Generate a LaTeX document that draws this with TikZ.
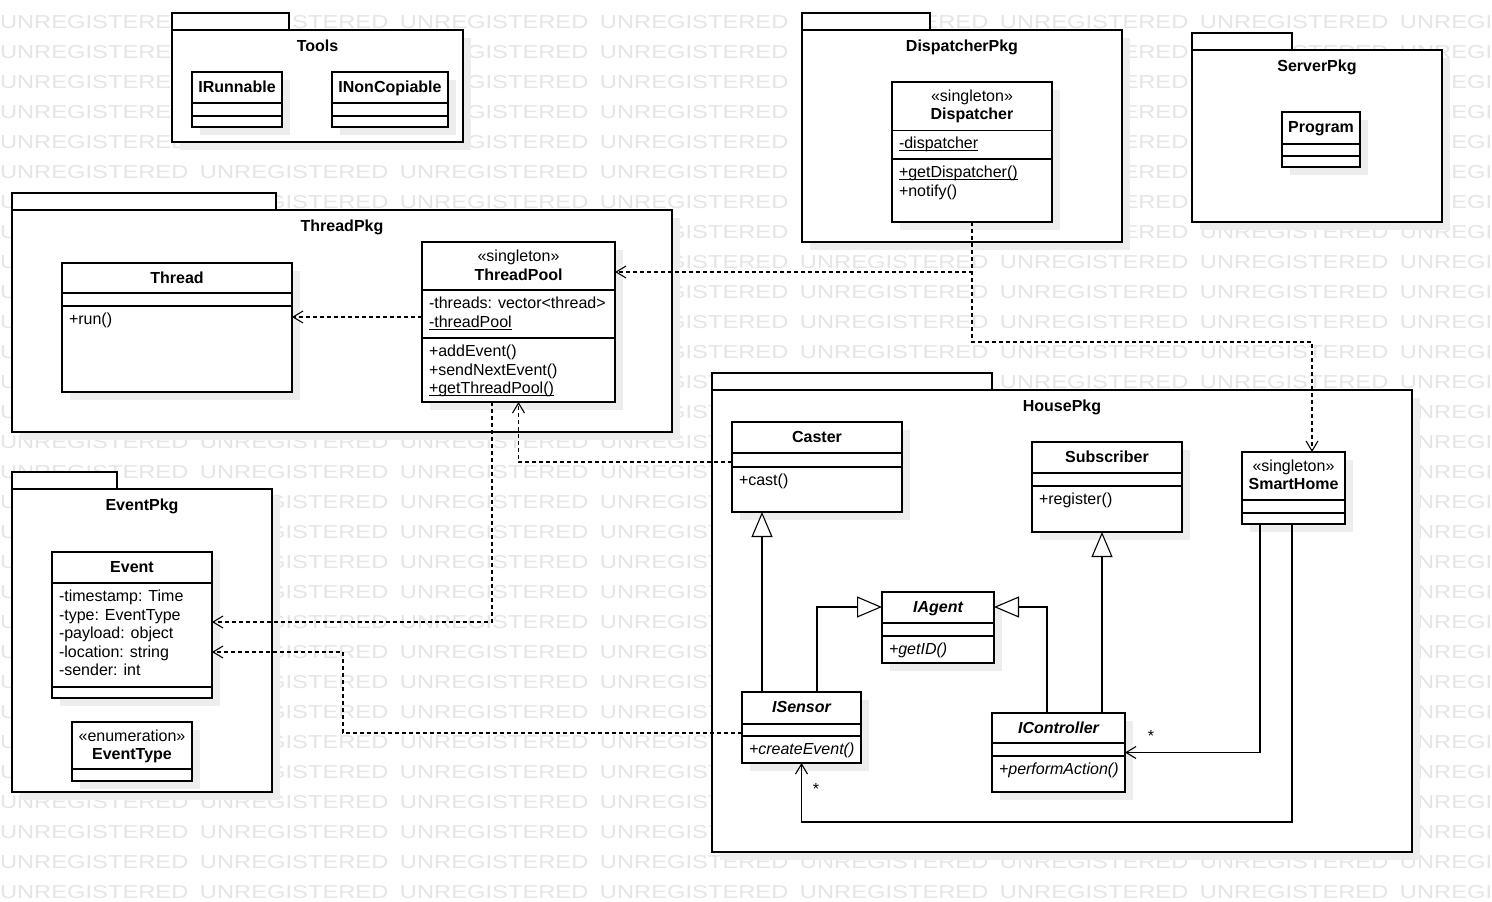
\documentclass[tikz,border=0pt]{standalone}
\usepackage{fontspec}
\usepackage{graphicx}
\setmainfont{Liberation Sans}
\usetikzlibrary{arrows.meta}

% text sizes
\newcommand\cfont{\fontsize{16}{19}\selectfont}
\newcommand\wmfont{\fontsize{18.67}{20}\selectfont}

% underline that sits just under the baseline (static members)
\newsavebox\ulbox
\newcommand\ulined[1]{\sbox\ulbox{#1}\rlap{\rule[-2.6pt]{\wd\ulbox}{0.9pt}}\usebox\ulbox}

% background watermark
\newcommand\wmword{\makebox[200pt][l]{\scalebox{1.27}[1]{UNREGISTERED}}}
\newcommand\wmrow{\wmword\wmword\wmword\wmword\wmword\wmword\wmword\wmword}

\tikzset{
  boxline/.style={line width=1.1pt},
  classbox/.style={draw, line width=1.1pt, fill=white, inner sep=0pt, outer sep=0pt, anchor=north west},
  shade/.style={fill=black!7},
  ctxt/.style={inner sep=0pt, outer sep=0pt, font=\cfont},
  bname/.style={ctxt, font=\cfont\bfseries},
  biname/.style={ctxt, font=\cfont\bfseries\itshape},
  iop/.style={ctxt, font=\cfont\itshape},
  wm/.style={inner sep=0pt, outer sep=0pt, anchor=base west, text=black!10, font=\wmfont},
  dep/.style={line width=1.1pt, dash pattern=on 4pt off 3pt, -{Straight Barb[length=10pt,width=12pt]}},
  assoc/.style={line width=1.1pt, -{Straight Barb[length=10pt,width=12pt]}},
  gen/.style={line width=1.1pt, -{Triangle[length=25pt,width=21pt,fill=white]}},
}

% class box: name, x, y, width, height, compartment line ys
\newcommand\umlclass[6]{%
  \fill[shade] (#2+8,#3+8) rectangle ++(#4,#5);
  \node[classbox, minimum width=#4pt, minimum height=#5pt] (#1) at (#2,#3) {};
  \foreach \ly in {#6} {\draw[boxline] (#2,\ly) -- ++(#4,0);}
}
% package: name, x, body top, width, height, tab width, title
\newcommand\umlpackage[7]{%
  \fill[shade] (#2+8,#3+8) rectangle ++(#4,#5);
  \draw[boxline, fill=white] (#2,#3-17) rectangle ++(#6,17);
  \node[classbox, minimum width=#4pt, minimum height=#5pt] (#1) at (#2,#3) {};
  \node[bname, anchor=base] (#1-title) at (#2+#4/2,#3+21.7) {#7};
}
\newcommand\ctext[5][ctxt]{\node[#1, anchor=base] (#2) at (#3,#4) {#5};}
\newcommand\ltext[5][ctxt]{\node[#1, anchor=base west] (#2) at (#3,#4) {#5};}

\begin{document}
\begin{tikzpicture}[x=1pt,y=-1pt]
\useasboundingbox (0,0) rectangle (1492,902);
\fill[white] (0,0) rectangle (1492,902);

% watermark rows
\foreach \r in {0,...,29}
  \node[wm] (wm\r) at (0,{28+30*\r}) {\wmrow};

% packages
\umlpackage{tools}{172}{30}{291}{112}{117}{Tools}
\umlpackage{dispatcherpkg}{802}{30}{320}{212}{128}{DispatcherPkg}
\umlpackage{serverpkg}{1192}{50}{250}{172}{100}{ServerPkg}
\umlpackage{threadpkg}{12}{210}{660}{222}{264}{ThreadPkg}
\umlpackage{eventpkg}{12}{489}{260}{303}{105}{EventPkg}
\umlpackage{housepkg}{712}{390}{700}{462}{280}{HousePkg}

% Tools
\umlclass{irunnable}{192}{72}{90}{55}{103,116}
\ctext[bname]{irunnable-n}{237}{92.5}{IRunnable}
\umlclass{inoncopiable}{332}{72}{116}{55}{103,116}
\ctext[bname]{inoncopiable-n}{390}{92.5}{INonCopiable}

% DispatcherPkg
\umlclass{dispatcher}{892}{82}{160}{140}{130.5,159}
\ctext{dispatcher-s}{972}{101}{«singleton»}
\ctext[bname]{dispatcher-n}{972}{119.5}{Dispatcher}
\ltext{dispatcher-a1}{899}{148.5}{\ulined{-dispatcher}}
\ltext{dispatcher-o1}{899}{177.5}{\ulined{+getDispatcher()}}
\ltext{dispatcher-o2}{899}{196}{+notify()}

% ServerPkg
\umlclass{program}{1282}{112}{78}{55}{144,156}
\ctext[bname]{program-n}{1321}{132.5}{Program}

% ThreadPkg
\umlclass{thread}{62}{263}{230}{129}{293,306}
\ctext[bname]{thread-n}{177}{283.5}{Thread}
\ltext{thread-o1}{69}{324.5}{+run()}
\umlclass{threadpool}{422}{242}{193}{160}{290,338}
\ctext{threadpool-s}{518.5}{261.5}{«singleton»}
\ctext[bname]{threadpool-n}{518.5}{280}{ThreadPool}
\ltext{threadpool-a1}{429}{308.5}{-threads: vector<thread>}
\ltext{threadpool-a2}{429}{327}{\ulined{-threadPool}}
\ltext{threadpool-o1}{429}{356.5}{+addEvent()}
\ltext{threadpool-o2}{429}{375}{+sendNextEvent()}
\ltext{threadpool-o3}{429}{393.5}{\ulined{+getThreadPool()}}

% EventPkg
\umlclass{event}{52}{552}{160}{146}{583,687}
\ctext[bname]{event-n}{132}{572.5}{Event}
\ltext{event-a1}{59}{601.5}{-timestamp: Time}
\ltext{event-a2}{59}{620}{-type: EventType}
\ltext{event-a3}{59}{638.5}{-payload: object}
\ltext{event-a4}{59}{657}{-location: string}
\ltext{event-a5}{59}{675.5}{-sender: int}
\umlclass{eventtype}{72}{722}{120}{59}{769}
\ctext{eventtype-s}{132}{741}{«enumeration»}
\ctext[bname]{eventtype-n}{132}{759}{EventType}

% HousePkg
\umlclass{caster}{732}{422}{170}{90}{453,467}
\ctext[bname]{caster-n}{817}{442.5}{Caster}
\ltext{caster-o1}{739}{485.5}{+cast()}
\umlclass{subscriber}{1032}{442}{150}{90}{473,486}
\ctext[bname]{subscriber-n}{1107}{462.5}{Subscriber}
\ltext{subscriber-o1}{1039}{504.5}{+register()}
\umlclass{smarthome}{1242}{452}{103}{72}{500,513}
\ctext{smarthome-s}{1293.5}{471.5}{«singleton»}
\ctext[bname]{smarthome-n}{1293.5}{489.5}{SmartHome}
\umlclass{iagent}{882}{592}{112}{71}{623,636}
\ctext[biname]{iagent-n}{938}{612.5}{IAgent}
\ltext[iop]{iagent-o1}{889}{654.5}{+getID()}
\umlclass{isensor}{742}{692}{119}{71}{724,736}
\ctext[biname]{isensor-n}{801.5}{712.5}{ISensor}
\ltext[iop]{isensor-o1}{749}{754.5}{+createEvent()}
\umlclass{icontroller}{992}{713}{133}{79}{743,756}
\ctext[biname]{icontroller-n}{1058.5}{733.5}{IController}
\ltext[iop]{icontroller-o1}{999}{774.5}{+performAction()}

% dependencies
\draw[dep] ([yshift=5pt]threadpool.west) -- ([yshift=5pt]threadpool.west -| thread.east);
\draw[dep] (dispatcher.south) |- ([yshift=50pt]threadpool.east);
\draw[dep] (dispatcher.south) -- ++(0,120) -| ([xshift=18.5pt]smarthome.north);
\draw[dep] ([xshift=-26.5pt]threadpool.south) |- ([yshift=3pt]event.east);
\draw[dep] ([yshift=5pt]caster.west) -| (threadpool.south);
\draw[dep] ([yshift=-5.5pt]isensor.west) -- ++(-399,0) |- ([yshift=-27pt]event.east);

% generalizations
\coordinate (isensor-up) at ([xshift=-39.5pt]isensor.north);
\draw[gen] (isensor-up) -- (isensor-up |- caster.south);
\draw[gen] ([xshift=15.5pt]isensor.north) |- ([yshift=20.5pt]iagent.west);
\draw[gen] ([xshift=-11.5pt]icontroller.north) |- ([yshift=20.5pt]iagent.east);
\coordinate (icontroller-up) at ([xshift=43.5pt]icontroller.north);
\draw[gen] (icontroller-up) -- (icontroller-up |- subscriber.south);

% associations
\draw[assoc] ([xshift=-33.5pt]smarthome.south) |- (icontroller.east);
\draw[assoc] ([xshift=-1.5pt]smarthome.south) -- ++(0,298) -| (isensor.south);
\node[ctxt, anchor=base] (mult-ctrl) at (1151,741) {*};
\node[ctxt, anchor=base] (mult-sens) at (816,794) {*};
\end{tikzpicture}
\end{document}
